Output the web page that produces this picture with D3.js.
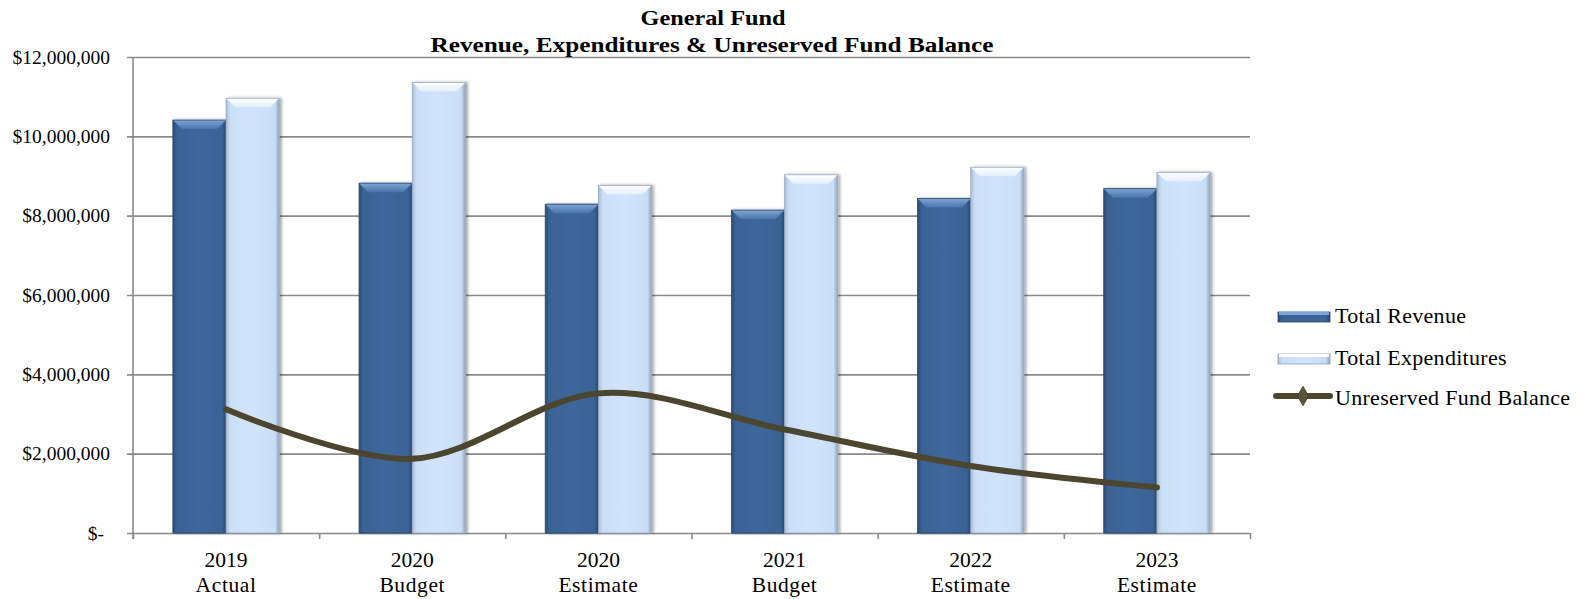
<!DOCTYPE html>
<html>
<head>
<meta charset="utf-8">
<script src="https://cdn.jsdelivr.net/npm/d3@7"></script>
<style>
  html, body { margin: 0; padding: 0; background: #ffffff; }
  svg { display: block; }
  text { font-family: "Liberation Serif", "Times New Roman", serif; fill: #000; }
</style>
</head>
<body>
<svg id="chart" width="1583" height="599"></svg>
<script>
// ---- data ----
const years      = ["2019", "2020", "2020", "2021", "2022", "2023"];
const stages     = ["Actual", "Budget", "Estimate", "Budget", "Estimate", "Estimate"];
const revenue    = [10410000, 8820000, 8290000, 8140000, 8430000, 8680000];
const expenses   = [10960000, 11360000, 8760000, 9030000, 9220000, 9090000];
const fundBal    = [3120000, 1870000, 3520000, 2610000, 1690000, 1150000];
const yTicks     = [0, 2000000, 4000000, 6000000, 8000000, 10000000, 12000000];
const seriesNames = ["Total Revenue", "Total Expenditures", "Unreserved Fund Balance"];
const titleLines = ["General Fund", "Revenue, Expenditures & Unreserved Fund Balance"];

// ---- layout ----
const plot = { left: 133, right: 1250, top: 57, bottom: 533 };
const svg = d3.select("#chart");
const defs = svg.append("defs");

const catKeys = years.map((y, i) => i);
const x0 = d3.scaleBand().domain(catKeys).range([plot.left, plot.right]).paddingInner(0).paddingOuter(0);
const bw = x0.bandwidth();
const barW = bw / 3.5;              // two bars + 150% gap
const x1 = d3.scaleBand().domain(["rev", "exp"]).range([(bw - 2 * barW) / 2, (bw + 2 * barW) / 2]);
const y = d3.scaleLinear().domain([0, 12000000]).range([plot.bottom, plot.top]);

// ---- gradients for bevelled bars ----
function hGrad(id, stops) {
  const g = defs.append("linearGradient").attr("id", id).attr("x1", 0).attr("x2", 1).attr("y1", 0).attr("y2", 0);
  stops.forEach(s => g.append("stop").attr("offset", s[0]).attr("stop-color", s[1]));
}
function vGrad(id, stops) {
  const g = defs.append("linearGradient").attr("id", id).attr("x1", 0).attr("x2", 0).attr("y1", 0).attr("y2", 1);
  stops.forEach(s => g.append("stop").attr("offset", s[0]).attr("stop-color", s[1]));
}
hGrad("revBody", [[0, "#2c4c77"], [0.08, "#3a6395"], [0.5, "#3d679a"], [0.92, "#3a6395"], [1, "#2a4870"]]);
hGrad("expBody", [[0, "#a9bcd4"], [0.08, "#cadff7"], [0.5, "#d1e4fb"], [0.92, "#c9ddf5"], [1, "#8fa3bd"]]);
vGrad("revTop", [[0, "#7fa5d6"], [1, "#4a76ab"]]);
vGrad("expTop", [[0, "#ffffff"], [1, "#e2eefc"]]);
const shadow = defs.append("filter").attr("id", "barShadow").attr("x", "-20%").attr("y", "-5%").attr("width", "140%").attr("height", "110%");
shadow.append("feDropShadow").attr("dx", 2).attr("dy", 0).attr("stdDeviation", 1.5).attr("flood-color", "#000").attr("flood-opacity", 0.35);

// ---- grid lines & y axis ----
const yAxis = d3.axisLeft(y).tickValues(yTicks).tickSize(plot.right - plot.left + 6).tickPadding(17)
  .tickFormat(d => d === 0 ? "$-" : "$" + d3.format(",")(d));
const gy = svg.append("g").attr("transform", `translate(${plot.right},0)`).call(yAxis);
gy.select(".domain").remove();
gy.selectAll(".tick line").attr("stroke", "#8a8a8a").attr("stroke-width", 1.6);
gy.selectAll(".tick text").attr("font-size", 19.5).attr("font-family", "Liberation Serif")
  .attr("x", 110 - plot.right).attr("text-anchor", "end")
  .attr("dx", d => d === 0 ? -6 : 0);

// vertical axis line
svg.append("line").attr("x1", plot.left).attr("x2", plot.left)
  .attr("y1", plot.top).attr("y2", plot.bottom + 6)
  .attr("stroke", "#8a8a8a").attr("stroke-width", 1.6);

// x axis boundary ticks
const xAxis = d3.axisBottom(d3.scaleLinear().domain([0, years.length]).range([plot.left, plot.right]))
  .tickValues(d3.range(years.length + 1)).tickSize(6).tickFormat("");
const gx = svg.append("g").attr("transform", `translate(0,${plot.bottom})`).call(xAxis);
gx.select(".domain").remove();
gx.selectAll(".tick line").attr("stroke", "#8a8a8a").attr("stroke-width", 1.6);

// ---- bars ----
function drawBars(values, key, bodyId, topId, edge) {
  const g = svg.append("g");
  values.forEach((v, i) => {
    const bx = x0(i) + x1(key);
    const by = y(v);
    const bh = plot.bottom - by;
    const w = x1.bandwidth();
    const bev = 9;
    const bar = g.append("g").attr("filter", "url(#barShadow)");
    bar.append("rect").attr("x", bx).attr("y", by).attr("width", w).attr("height", bh)
      .attr("fill", `url(#${bodyId})`);
    bar.append("path")
      .attr("d", `M${bx},${by}L${bx + w},${by}L${bx + w - bev},${by + bev}L${bx + bev},${by + bev}Z`)
      .attr("fill", `url(#${topId})`);
    bar.append("rect").attr("x", bx).attr("y", by).attr("width", w).attr("height", bh)
      .attr("fill", "none").attr("stroke", edge).attr("stroke-width", 0.8);
  });
}
drawBars(revenue, "rev", "revBody", "revTop", "#2a4670");
drawBars(expenses, "exp", "expBody", "expTop", "#9aacc4");

// ---- fund balance line ----
const line = d3.line()
  .x((d, i) => x0(i) + bw / 2)
  .y(d => y(d))
  .curve(d3.curveCardinal.tension(0));
svg.append("path").datum(fundBal).attr("d", line)
  .attr("fill", "none").attr("stroke", "#4c4630").attr("stroke-width", 6)
  .attr("stroke-linecap", "round").attr("stroke-linejoin", "round");

// ---- category labels ----
const cl = svg.append("g");
catKeys.forEach(i => {
  const cx = x0(i) + bw / 2;
  cl.append("text").attr("x", cx).attr("y", 567).attr("text-anchor", "middle").attr("font-size", 21.5).text(years[i]);
  cl.append("text").attr("x", cx).attr("y", 592).attr("text-anchor", "middle").attr("font-size", 21.5)
    .attr("letter-spacing", 0.6).text(stages[i]);
});

// ---- title ----
svg.append("text").attr("x", 713).attr("y", 25).attr("text-anchor", "middle")
  .attr("font-size", 22).attr("font-weight", "bold")
  .attr("textLength", 145).attr("lengthAdjust", "spacingAndGlyphs").text(titleLines[0]);
svg.append("text").attr("x", 712).attr("y", 52).attr("text-anchor", "middle")
  .attr("font-size", 22).attr("font-weight", "bold")
  .attr("textLength", 563).attr("lengthAdjust", "spacingAndGlyphs").text(titleLines[1]);

// ---- legend ----
const lg = svg.append("g");
const legY = [317, 359, 399];
lg.append("rect").attr("x", 1278).attr("y", legY[0] - 5).attr("width", 52).attr("height", 10)
  .attr("fill", "url(#revBody)").attr("stroke", "#2a4670").attr("stroke-width", 0.8);
lg.append("rect").attr("x", 1279).attr("y", legY[0] - 5).attr("width", 50).attr("height", 3).attr("fill", "#7fa5d6");
lg.append("rect").attr("x", 1278).attr("y", legY[1] - 5).attr("width", 52).attr("height", 10)
  .attr("fill", "url(#expBody)").attr("stroke", "#8fa3bd").attr("stroke-width", 0.8);
lg.append("rect").attr("x", 1279).attr("y", legY[1] - 5).attr("width", 50).attr("height", 3).attr("fill", "#ffffff");
lg.append("line").attr("x1", 1276).attr("x2", 1330).attr("y1", legY[2] - 3).attr("y2", legY[2] - 3)
  .attr("stroke", "#4c4630").attr("stroke-width", 6).attr("stroke-linecap", "round");
lg.append("path").attr("d", d3.symbol(d3.symbolDiamond, 110)()).attr("transform", `translate(1303,${legY[2] - 3})`)
  .attr("fill", "#5b5538").attr("stroke", "#3d3825").attr("stroke-width", 0.8);
seriesNames.forEach((n, i) => {
  lg.append("text").attr("x", 1335).attr("y", legY[i] + 6).attr("font-size", 22)
    .attr("letter-spacing", 0.3).text(n);
});
</script>
</body>
</html>
